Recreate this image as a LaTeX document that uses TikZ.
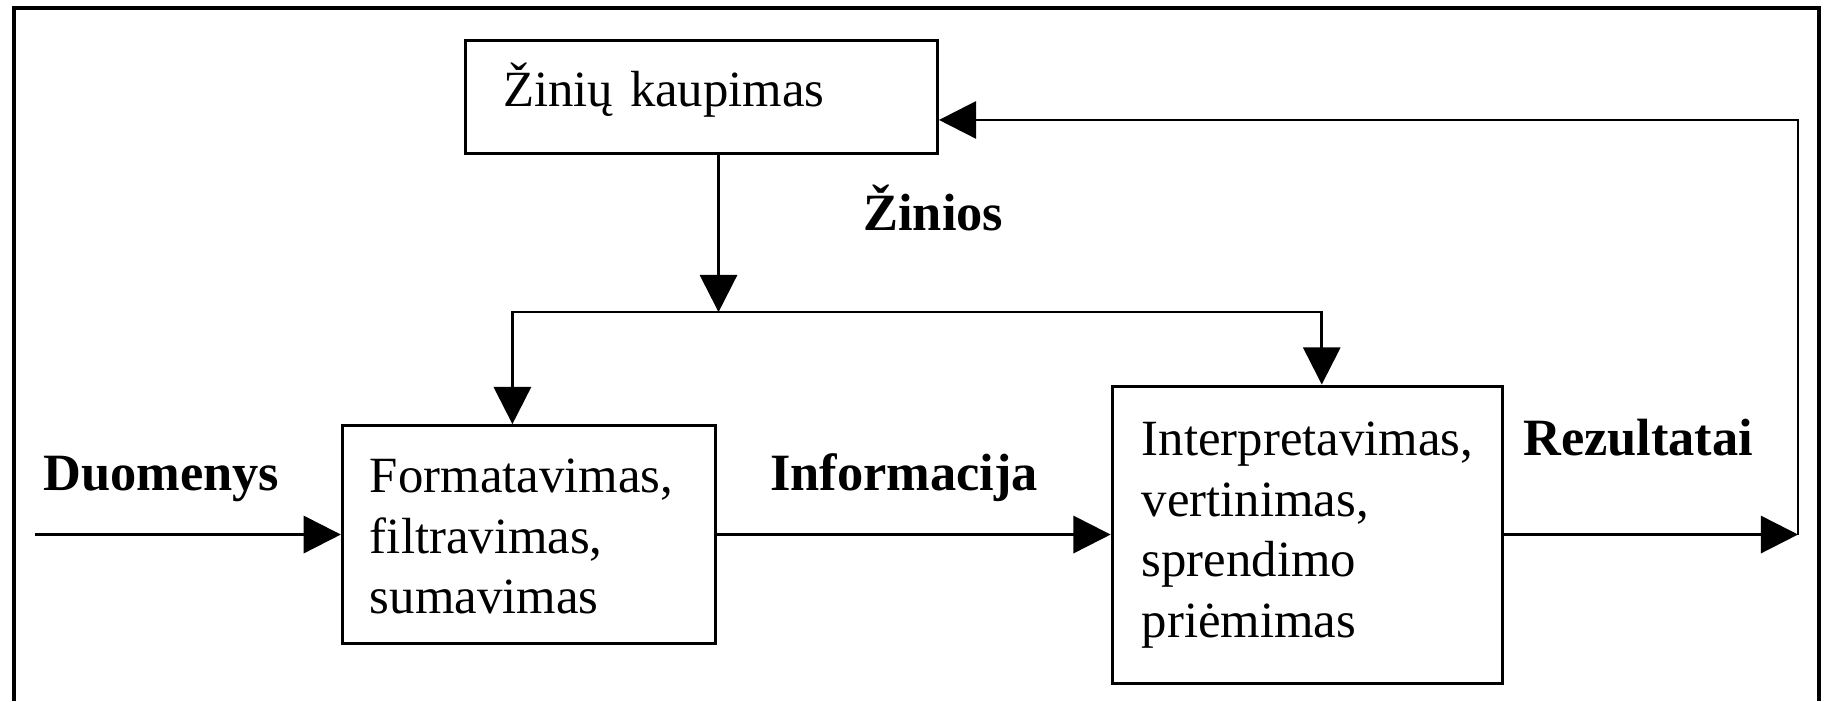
\documentclass[tikz,border=0pt]{standalone}
\usepackage{fontspec}
\setmainfont{Liberation Serif}
\usetikzlibrary{arrows.meta}
\tikzset{
  box/.style={draw=black, line width=1.3pt, fill=white, inner ysep=0pt, align=left, font=\fontsize{21.8}{26}\selectfont},
  lbl/.style={anchor=base west, inner sep=0pt, font=\fontsize{22.5}{26}\selectfont\bfseries},
  arr/.style={draw=black, line width=1.1pt, -{Triangle[length=16pt,width=16pt]}}
}
\begin{document}
\begin{tikzpicture}[x=0.5pt, y=-0.5pt]
\useasboundingbox (0,0) rectangle (1568,602);
% outer frame
\draw[line width=1.8pt] (12,602) -- (12,7) -- (1562,7) -- (1562,602);
% boxes
\draw (602.5,83.5) node[box, minimum height=48.5pt, inner xsep=16pt, text width=170.5pt, text height=8pt, text depth=0pt](Kaupimas){Žinių kaupimas}
(454,459) node[box, minimum height=93.5pt, inner xsep=11.85pt, text width=136.3pt, text height=0pt, text depth=36pt](Format){Formatavimas,\\ filtravimas,\\ sumavimas}
(1122.5,459) node[box, minimum height=127.5pt, inner xsep=12.75pt, text width=142pt, text height=0pt, text depth=67.8pt](Interp){Interpretavimas,\\ vertinimas,\\ sprendimo\\ priėmimas};
% labels
\draw (37,421.5) node[lbl](Duomenys){Duomenys}
(661,421.5) node[lbl](Informacija){Informacija}
(1307.6,390.7) node[lbl](Rezultatai){Rezultatai}
(741,197.5) node[lbl](Zinios){Žinios};
% turning points
\coordinate (start) at (30,459);
\coordinate (turn) at (1544,459);
\coordinate (loop) at (1544,103);
\coordinate (junction) at (617,268);
\coordinate (lbranch) at (440,268);
\coordinate (rbranch) at (1135,268);
% connectors
\draw[arr] (start) -- (Format);
\draw[arr] (Format) -- (Interp);
\draw[arr] (Interp) -- (turn);
\draw[arr] (turn) -- (loop) -- (loop -| Kaupimas.east);
\draw[arr] (Kaupimas.south -| junction) -- (junction);
\draw[arr] (junction) -- (lbranch) -- (lbranch |- Format.north);
\draw[arr] (junction) -- (rbranch) -- (rbranch |- Interp.north);
\end{tikzpicture}
\end{document}
